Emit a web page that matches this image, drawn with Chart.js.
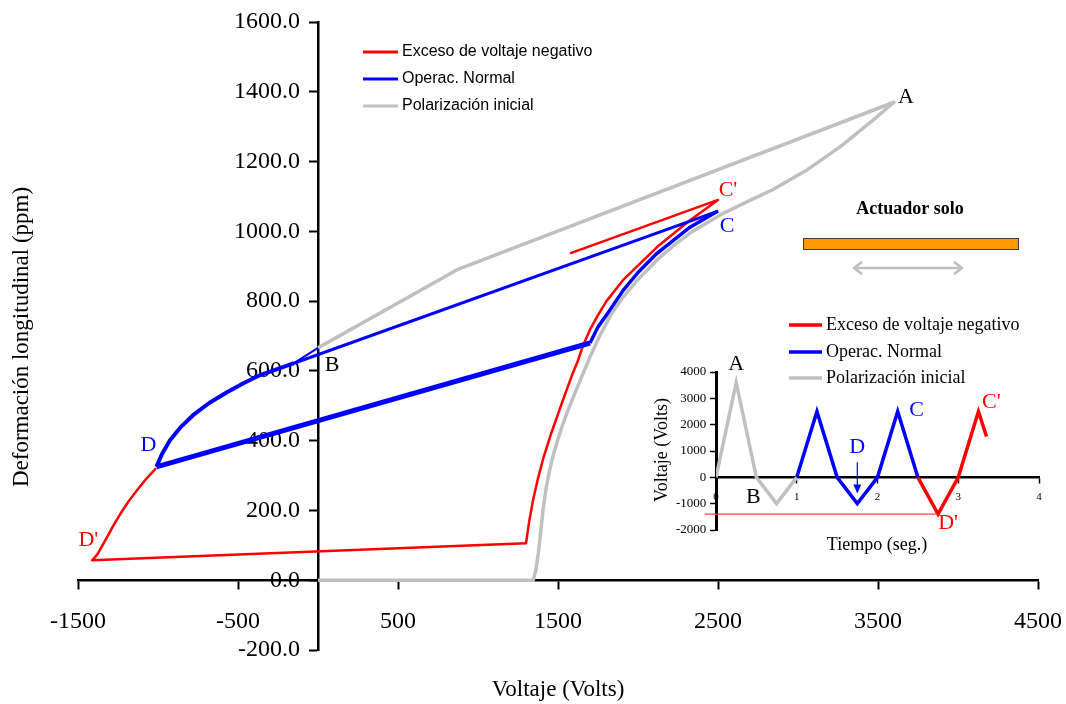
<!DOCTYPE html>
<html>
<head>
<meta charset="utf-8">
<script src="https://cdn.jsdelivr.net/npm/chart.js@4.4.1/dist/chart.umd.min.js"></script>
<style>
  html, body { margin: 0; padding: 0; background: #fff; }
  #wrap { position: relative; width: 1066px; height: 704px; }
  #main { position: absolute; left: 0; top: 0; }
  #inset { position: absolute; left: 640px; top: 300px; }
</style>
</head>
<body>
<div id="wrap">
  <canvas id="main" width="1066" height="704"></canvas>
  <canvas id="inset" width="426" height="260"></canvas>
</div>
<script>
// ---- main loop: voltage (V) vs longitudinal strain (ppm) ----
const grayVolts  = [0, 1345, 1362, 1378, 1392, 1406, 1425, 1446, 1470, 1500, 1530, 1556, 1600, 1638, 1700, 1760, 1830, 1906, 2000, 2119, 2220, 2325, 2513, 2638, 2844, 3056, 3263, 3469, 3600, 870, 0];
const grayStrain = [0, 0, 30, 80, 140, 200, 262, 312, 358, 405, 447, 480, 530, 572, 640, 700, 760, 811, 862, 918, 958, 995, 1047, 1075, 1120, 1176, 1242, 1319, 1370, 890, 666];

const blueVolts  = [0, -150, -250, -362, -460, -569, -680, -781, -860, -925, -975, -1010, 1700, 1750, 1806, 1906, 2000, 2119, 2325, 2500, -150];
const blueStrain = [666, 622, 606, 588, 566, 539, 508, 473, 438, 401, 362, 325, 680, 726, 762, 830, 882, 937, 1012, 1058, 622];

const redVolts  = [-1012, -1075, -1131, -1187, -1237, -1281, -1319, -1350, -1375, -1394, -1412, 1300, 1319, 1344, 1375, 1412, 1456, 1500, 1544, 1588, 1625, 1656, 1700, 1750, 1803, 1906, 2119, 2325, 2500, 1575];
const redStrain = [321, 290, 258, 224, 189, 155, 123, 98, 77, 66, 57, 106, 166, 229, 292, 356, 419, 476, 533, 588, 630, 672, 718, 760, 800, 860, 955, 1032, 1090, 937];

// ---- inset: voltage vs time ----
const inGrayT = [0, 0.25, 0.5, 0.75, 1];
const inGrayV = [0, 3600, 0, -1000, 0];
const inBlueT = [1, 1.25, 1.5, 1.75, 2, 2.25, 2.5];
const inBlueV = [0, 2500, 0, -1000, 0, 2500, 0];
const inRedT  = [2.5, 2.75, 3, 3.25, 3.35];
const inRedV  = [0, -1400, 0, 2500, 1550];
const inLimitT = [-0.14, 2.74];
const inLimitV = [-1400, -1400];

const seriesNames = ['Exceso de voltaje negativo', 'Operac. Normal', 'Polarización inicial'];
const RED = '#FF0000', BLUE = '#0000FF', GRAY = '#C0C0C0';
const SERIF = '"Liberation Serif", "Times New Roman", serif';
const SANS = '"Liberation Sans", Arial, sans-serif';

const toPts = (xs, ys) => xs.map((x, i) => ({ x: x, y: ys[i] }));
// stroke width of each blue segment (overlapping passes look thicker)
const blueWidths = [2, 4, 4, 4, 4, 4, 4, 4, 4, 4, 4, 5, 3.5, 3.5, 3.5, 3.5, 3.5, 3.5, 3.5, 3];

function text(ctx, str, x, y, font, color, align, rot) {
  ctx.save();
  ctx.font = font;
  ctx.fillStyle = color;
  ctx.textAlign = align || 'center';
  ctx.textBaseline = 'middle';
  ctx.translate(x, y);
  if (rot) ctx.rotate(rot);
  ctx.fillText(str, 0, 0);
  ctx.restore();
}

function line(ctx, x1, y1, x2, y2, color, w) {
  ctx.save();
  ctx.strokeStyle = color;
  ctx.lineWidth = w;
  ctx.beginPath();
  ctx.moveTo(x1, y1);
  ctx.lineTo(x2, y2);
  ctx.stroke();
  ctx.restore();
}

// axes take no room of their own: the layout padding sets the plot box
function noRoom(s) {
  s.width = s.isHorizontal() ? s.width : 0;
  s.height = s.isHorizontal() ? 0 : s.height;
  s.paddingLeft = s.paddingRight = s.paddingTop = s.paddingBottom = 0;
}

const mainLabels = [
  { t: 'A',  x: 3600,  y: 1370, dx: 12, dy: -5,  c: '#000' },
  { t: "C'", x: 2500,  y: 1090, dx: 10, dy: -10, c: RED },
  { t: 'C',  x: 2500,  y: 1058, dx: 9,  dy: 15,  c: BLUE },
  { t: 'B',  x: 0,     y: 666,  dx: 14, dy: 17,  c: '#000' },
  { t: 'D',  x: -1010, y: 325,  dx: -8, dy: -22, c: BLUE },
  { t: "D'", x: -1410, y: 57,   dx: -4, dy: -20, c: RED }
];

const mainDecor = {
  id: 'mainDecor',
  afterDraw(chart) {
    const ctx = chart.ctx;
    const sx = chart.scales.x, sy = chart.scales.y;
    // axis titles
    text(ctx, 'Deformación longitudinal (ppm)', 22, 337, '23px ' + SERIF, '#000', 'center', -Math.PI / 2);
    text(ctx, 'Voltaje (Volts)', 558, 690, '23px ' + SERIF, '#000');
    // point labels
    mainLabels.forEach(l => {
      text(ctx, l.t, sx.getPixelForValue(l.x) + l.dx, sy.getPixelForValue(l.y) + l.dy, '22px ' + SERIF, l.c);
    });
    // legend
    const cols = [RED, BLUE, GRAY];
    [52, 79, 106].forEach((y, i) => {
      line(ctx, 363, y, 398, y, cols[i], 3);
      text(ctx, seriesNames[i], 402, y, '16px ' + SANS, '#000', 'left');
    });
    // actuator sketch
    text(ctx, 'Actuador solo', 910, 209, 'bold 18px ' + SERIF, '#000');
    ctx.save();
    ctx.fillStyle = '#FF9900';
    ctx.strokeStyle = '#404040';
    ctx.lineWidth = 1;
    ctx.fillRect(803.5, 238.5, 215, 11);
    ctx.strokeRect(803.5, 238.5, 215, 11);
    ctx.strokeStyle = GRAY;
    ctx.lineWidth = 2.5;
    ctx.beginPath();
    ctx.moveTo(854, 268); ctx.lineTo(962, 268);
    ctx.moveTo(862, 262); ctx.lineTo(854, 268); ctx.lineTo(862, 274);
    ctx.moveTo(954, 262); ctx.lineTo(962, 268); ctx.lineTo(954, 274);
    ctx.stroke();
    ctx.restore();
  }
};

const tickFont = { family: SERIF, size: 24 };

new Chart(document.getElementById('main'), {
  type: 'scatter',
  data: {
    datasets: [
      { label: seriesNames[1], data: toPts(blueVolts, blueStrain), showLine: true, borderColor: BLUE,
        borderWidth: 3.5, pointRadius: 0, borderJoinStyle: 'round',
        segment: { borderWidth: ctx => blueWidths[ctx.p0DataIndex] } },
      { label: seriesNames[0], data: toPts(redVolts, redStrain), showLine: true, borderColor: RED,
        borderWidth: 2.5, pointRadius: 0, borderJoinStyle: 'round' },
      { label: seriesNames[2], data: toPts(grayVolts, grayStrain), showLine: true, borderColor: GRAY,
        borderWidth: 3.5, pointRadius: 0, borderJoinStyle: 'round' }
    ]
  },
  options: {
    responsive: false,
    animation: false,
    events: [],
    layout: { padding: { left: 78, right: 28, top: 22, bottom: 54 } },
    plugins: { legend: { display: false }, tooltip: { enabled: false } },
    scales: {
      x: {
        type: 'linear', position: { y: 0 }, min: -1500, max: 4500,
        ticks: { stepSize: 1000, font: tickFont, color: '#000', padding: 19, callback: v => String(v) },
        grid: { drawOnChartArea: false, tickLength: 8, tickWidth: 2, tickColor: '#000' },
        border: { color: '#000', width: 2.5 },
        afterFit: noRoom
      },
      y: {
        type: 'linear', position: { x: 0 }, min: -200, max: 1600,
        ticks: { stepSize: 200, font: tickFont, color: '#000', callback: v => v.toFixed(1) + '   ' },
        grid: { drawOnChartArea: false, tickLength: 8, tickWidth: 2, tickColor: '#000' },
        border: { color: '#000', width: 2.5 },
        afterFit: noRoom
      }
    }
  },
  plugins: [mainDecor]
});

// ---- inset chart ----
const insetLabels = [
  { t: 'A',  x: 0.25, y: 3600,  dx: 0,  dy: -18, c: '#000' },
  { t: 'B',  x: 0.5,  y: 0,     dx: -3, dy: 20,  c: '#000' },
  { t: 'C',  x: 2.25, y: 2500,  dx: 19, dy: -1,  c: BLUE },
  { t: "C'", x: 3.25, y: 2500,  dx: 13, dy: -9,  c: RED },
  { t: "D'", x: 2.75, y: -1400, dx: 10, dy: 9,   c: RED },
  { t: 'D',  x: 1.75, y: -1000, dx: 0,  dy: -56, c: BLUE }
];

const insetDecor = {
  id: 'insetDecor',
  afterDraw(chart) {
    const ctx = chart.ctx;
    const sx = chart.scales.x, sy = chart.scales.y;
    text(ctx, 'Voltaje (Volts)', 22, 150, '18px ' + SERIF, '#000', 'center', -Math.PI / 2);
    text(ctx, 'Tiempo (seg.)', 237, 245, '18px ' + SERIF, '#000');
    insetLabels.forEach(l => {
      text(ctx, l.t, sx.getPixelForValue(l.x) + l.dx, sy.getPixelForValue(l.y) + l.dy, '22px ' + SERIF, l.c);
    });
    // arrow pointing at D
    const ax = sx.getPixelForValue(1.75);
    const ay1 = sy.getPixelForValue(570), ay2 = sy.getPixelForValue(-610);
    line(ctx, ax, ay1, ax, ay2 - 6, BLUE, 1.2);
    ctx.save();
    ctx.fillStyle = BLUE;
    ctx.beginPath();
    ctx.moveTo(ax, ay2); ctx.lineTo(ax - 4, ay2 - 9); ctx.lineTo(ax + 4, ay2 - 9);
    ctx.closePath(); ctx.fill();
    ctx.restore();
    // legend
    const cols = [RED, BLUE, GRAY];
    [25, 52, 78].forEach((y, i) => {
      line(ctx, 149, y, 182, y, cols[i], 3.5);
      text(ctx, seriesNames[i], 186, y, '18px ' + SERIF, '#000', 'left');
    });
  }
};

new Chart(document.getElementById('inset'), {
  type: 'scatter',
  data: {
    datasets: [
      { label: 'limit', data: toPts(inLimitT, inLimitV), showLine: true, borderColor: '#FF4040',
        borderWidth: 1.2, pointRadius: 0, clip: false },
      { label: seriesNames[2], data: toPts(inGrayT, inGrayV), showLine: true, borderColor: GRAY,
        borderWidth: 3.5, pointRadius: 0 },
      { label: seriesNames[1], data: toPts(inBlueT, inBlueV), showLine: true, borderColor: BLUE,
        borderWidth: 3.5, pointRadius: 0 },
      { label: seriesNames[0], data: toPts(inRedT, inRedV), showLine: true, borderColor: RED,
        borderWidth: 3.5, pointRadius: 0 }
    ]
  },
  options: {
    responsive: false,
    animation: false,
    events: [],
    layout: { padding: { left: 76, right: 27, top: 72, bottom: 30 } },
    plugins: { legend: { display: false }, tooltip: { enabled: false } },
    scales: {
      x: {
        type: 'linear', position: { y: 0 }, min: 0, max: 4,
        ticks: { stepSize: 1, font: { family: SERIF, size: 11 }, color: '#000', padding: 8 },
        grid: { drawOnChartArea: false, tickLength: 5, tickWidth: 1.5, tickColor: '#000' },
        border: { color: '#000', width: 2.5 },
        afterFit: noRoom
      },
      y: {
        type: 'linear', position: { x: 0 }, min: -2000, max: 4000,
        ticks: { stepSize: 1000, font: { family: SERIF, size: 13 }, color: '#000', callback: v => String(v) + '   ' },
        grid: { drawOnChartArea: false, tickLength: 5, tickWidth: 1.5, tickColor: '#000' },
        border: { color: '#000', width: 3 },
        afterFit: noRoom
      }
    }
  },
  plugins: [insetDecor]
});
</script>
</body>
</html>
